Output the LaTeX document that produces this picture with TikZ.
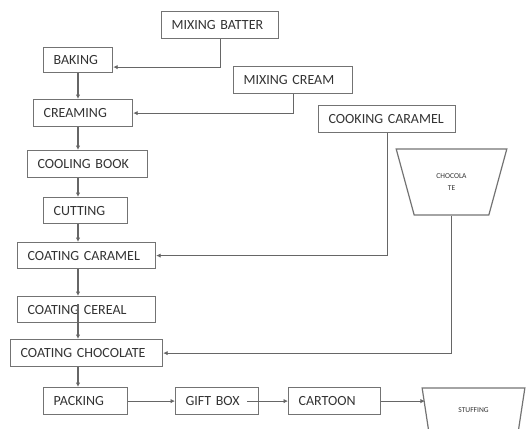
\documentclass[tikz,border=0pt]{standalone}
\usepackage{fontspec}
\setmainfont{Carlito}
\usepackage{tikz}
\usetikzlibrary{arrows.meta, shapes.geometric}
\usepackage{xcolor}

\tikzset{
  stepbox/.style = {draw=black!55, line width=1.2pt, anchor=north west, align=left,
    inner xsep=10pt, inner ysep=0pt, minimum height=27pt, text=black!80,
    font=\fontsize{14}{15}\selectfont},
  hopper/.style = {draw=black!55, line width=1.2pt, trapezium, trapezium stretches=true,
    shape border rotate=180, align=center, text=black!80, inner sep=0pt,
    font=\fontsize{7.5}{12.5}\selectfont},
  flow/.style = {black!60, line width=1.1pt, -{Latex[length=4.5pt,width=4.5pt]}}
}

\begin{document}
\begin{tikzpicture}[x=1pt, y=-1pt]
\useasboundingbox (0,0) rectangle (526,428);
\clip (0,0) rectangle (526,428);

\coordinate (spine) at (78,0);

\node[stepbox, text width=97pt] (batter) at (161,11){MIXING BATTER};
\node[stepbox, text width=49pt, minimum height=25pt] (baking) at (43,47){BAKING};
\node[stepbox, text width=99pt] (cream) at (233,66){MIXING CREAM};
\node[stepbox, text width=79pt] (creaming) at (33,99){CREAMING};
\node[stepbox, text width=117pt] (caramel) at (318,105){COOKING CARAMEL};
\node[stepbox, text width=100pt] (cooling) at (27,150){COOLING BOOK};
\node[stepbox, text width=64pt, minimum height=26pt] (cutting) at (43,197){CUTTING};
\node[stepbox, text width=118pt, minimum height=26pt] (coatcar) at (17,242){COATING CARAMEL};
\node[stepbox, text width=118pt, minimum height=26pt] (coatcer) at (17,296){COATING CEREAL};
\node[stepbox, text width=132pt] (coatchoc) at (10,339){COATING CHOCOLATE};
\node[stepbox, text width=64pt] (packing) at (43,387){PACKING};
\node[stepbox, text width=63pt] (gift) at (175,387){GIFT BOX};
\node[stepbox, text width=72pt] (cartoon) at (288,387){CARTOON};

% hoppers
\node[hopper, trapezium angle=67.4, minimum width=111pt, minimum height=66pt] (choco) at (451.5,182){CHOCOLA\\TE};
\node[hopper, trapezium angle=65.3, minimum width=103pt, minimum height=44pt] (stuffing) at (473.5,410){STUFFING};

% main line
\draw[flow] (batter.south) |- ([yshift=-7pt]baking.east);
\draw[flow] (baking.south -| spine) -- (creaming.north -| spine);
\draw[flow] (cream.south) |- (creaming.east);
\draw[flow] (creaming.south -| spine) -- (cooling.north -| spine);
\draw[flow] (cooling.south -| spine) -- (cutting.north -| spine);
\draw[flow] (cutting.south -| spine) -- (coatcar.north -| spine);
\draw[flow] (caramel.south) |- (coatcar.east);
\draw[flow] (coatcar.south -| spine) -- (coatcer.north -| spine);
\draw[flow] ([yshift=-8pt]coatcer.north -| spine) -- (coatchoc.north -| spine);
\draw[flow] (choco.south) |- (coatchoc.east);
\draw[flow] (coatchoc.south -| spine) -- (packing.north -| spine);

\draw[flow] (packing.east) -- (gift.west);
\draw[flow] ([xshift=-12pt]gift.east) -- (cartoon.west);
\draw[flow] (cartoon.east) -- (cartoon.east -| stuffing.west);
\end{tikzpicture}
\end{document}
